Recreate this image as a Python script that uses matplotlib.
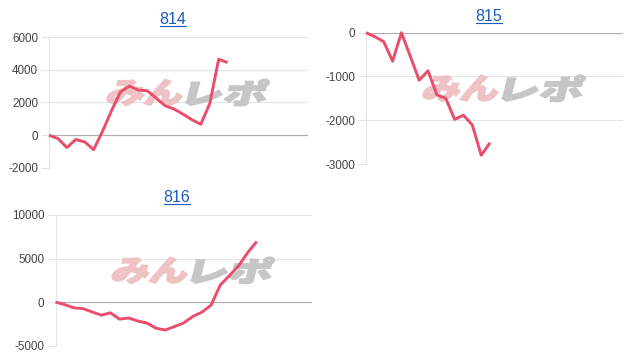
import matplotlib
matplotlib.use("Agg")
import matplotlib.pyplot as plt
from matplotlib.textpath import TextPath
from matplotlib.patches import PathPatch
from matplotlib.font_manager import FontProperties
from matplotlib.transforms import Affine2D
from matplotlib.lines import Line2D

W, H = 630, 358

titles = ["814", "815", "816"]
values_814 = [0, -200, -750, -260, -410, -880, 250, 1500, 2650, 3000, 2760, 2720,
              2270, 1800, 1600, 1290, 950, 670, 1940, 4640, 4440]
values_815 = [0, -90, -205, -650, 0, -540, -1085, -870, -1420, -1500, -1980, -1885,
              -2110, -2800, -2515]
values_816 = [0, -280, -650, -750, -1120, -1500, -1230, -1950, -1820, -2170, -2400,
              -3000, -3200, -2800, -2400, -1650, -1150, -350, 1950, 3040, 4150, 5680, 6960]
yticks_814 = [-2000, 0, 2000, 4000, 6000]
yticks_815 = [-3000, -2000, -1000, 0]
yticks_816 = [-5000, 0, 5000, 10000]
xslots = [29, 29, 28]

LINE = "#ea4d6c"
GRID = "#e4e4e4"
ZERO = "#b0b0b0"
LABEL = "#444444"
TITLE = "#1a5cc0"

fig = plt.figure(figsize=(W / 100, H / 100), dpi=100)
fig.patch.set_facecolor("white")

# (left, right, top, bottom) in pixels
boxes = [(49, 308, 37, 168), (366, 623, 32.7, 164), (55.5, 311.7, 215, 345.7)]
title_pos = [(173, 24), (489, 21), (177, 202)]
series = [values_814, values_815, values_816]
yticks = [yticks_814, yticks_815, yticks_816]

tick_font = FontProperties(family="Liberation Sans", size=8.4)
title_font = FontProperties(family="Liberation Sans", size=11.5)
wm_font = FontProperties(family="Noto Sans CJK JP", weight="black")

pix = Affine2D().scale(1 / W, 1 / H) + fig.transFigure


def watermark(ax, cx, cy):
    parts = [("みん", "#efc3c6", 74), ("レポ", "#c6c6c6", 78)]
    gap = 6
    total = sum(p[2] for p in parts) + gap
    x = cx - total / 2
    hgt = 26
    for txt, col, wd in parts:
        tp = TextPath((0, 0), txt, prop=wm_font, size=1)
        ext = tp.get_extents()
        sx = wd / ext.width
        sy = hgt / ext.height
        tr = (Affine2D().translate(-ext.x0, -ext.y0).scale(sx, sy)
              .skew_deg(14, 0).translate(x - 4, H - cy - hgt / 2))
        path = tr.transform_path(tp)
        patch = PathPatch(path, transform=pix, facecolor=col, edgecolor=col,
                          linewidth=1.3, joinstyle="miter", zorder=1, clip_on=False)
        ax.add_artist(patch)
        x += wd + gap


axes = []
for i, (l, r, t, b) in enumerate(boxes):
    ax = fig.add_axes([l / W, 1 - b / H, (r - l) / W, (b - t) / H])
    axes.append(ax)
    vals = series[i]
    yt = yticks[i]
    ax.set_xlim(0, xslots[i])
    ax.set_ylim(yt[0], yt[-1])
    ax.set_yticks(yt)
    ax.set_yticklabels([str(v) for v in yt], fontproperties=tick_font, color=LABEL)
    ax.set_xticks([])
    for s in ["top", "right", "bottom"]:
        ax.spines[s].set_visible(False)
    ax.spines["left"].set_color("#e6e6e6")
    ax.spines["left"].set_linewidth(0.8)
    ax.tick_params(axis="y", length=5.5, width=0.8, color=GRID, pad=2.5)
    for v in yt:
        ax.axhline(v, color=ZERO if v == 0 else GRID, lw=0.9 if v == 0 else 0.8,
                   zorder=0.5)
    ax.plot(range(len(vals)), vals, color=LINE, lw=2.1, zorder=3,
            solid_joinstyle="round", solid_capstyle="butt", clip_on=False)
    watermark(ax, (l + r) / 2 + 10, (t + b) / 2 - 10)

for i, (tx, ty) in enumerate(title_pos):
    fig.text(tx / W, 1 - ty / H, titles[i], fontproperties=title_font, color=TITLE,
             ha="center", va="baseline")

fig.canvas.draw()
for t in fig.texts:
    bb = t.get_window_extent()
    y = bb.y0 + 1.2
    fig.add_artist(Line2D([bb.x0 / W, bb.x1 / W], [y / H, y / H],
                          transform=fig.transFigure, color=TITLE, lw=0.8))

fig.savefig("out.png", dpi=100)
